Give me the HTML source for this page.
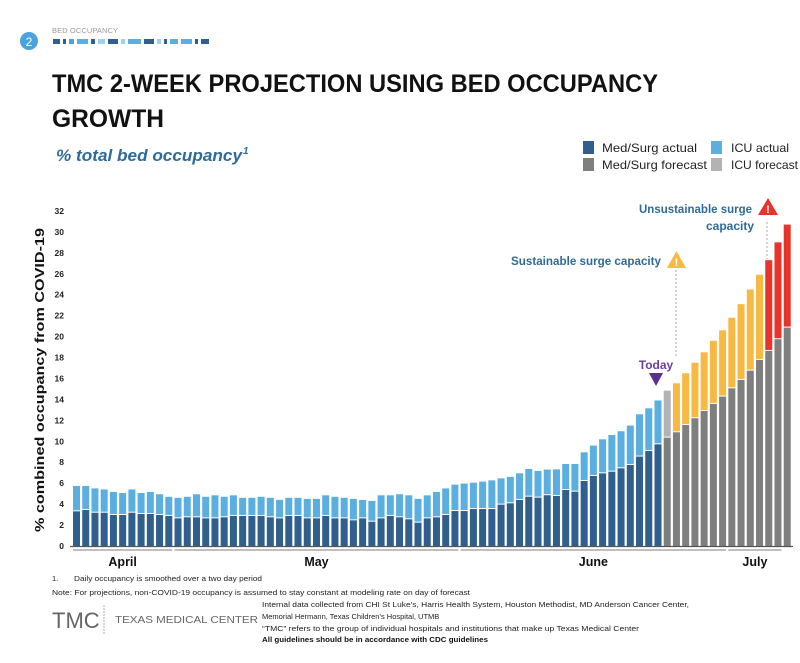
<!DOCTYPE html>
<html><head><meta charset="utf-8"><style>
body{margin:0;background:#fff;}
svg{display:block;font-family:"Liberation Sans",sans-serif;}
</style></head><body>
<svg id="chart" width="800" height="663" viewBox="0 0 800 663">
<g>
<circle cx="29" cy="41" r="9" fill="#4aa3dc"/>
<text x="29" y="46" font-size="12" fill="#fff" text-anchor="middle">2</text>
<text x="52" y="33" font-size="7.5" fill="#999" textLength="66">BED OCCUPANCY</text>
<g id="dashes"></g>
</g>
<text x="52" y="92" font-size="25" font-weight="bold" fill="#111" textLength="606" lengthAdjust="spacingAndGlyphs">TMC 2-WEEK PROJECTION USING BED OCCUPANCY</text>
<text x="52" y="127" font-size="25" font-weight="bold" fill="#111" textLength="112" lengthAdjust="spacingAndGlyphs">GROWTH</text>
<text x="56" y="161" font-size="17" font-weight="bold" font-style="italic" fill="#2e6b98" textLength="186" lengthAdjust="spacingAndGlyphs">% total bed occupancy</text>
<text x="243" y="154" font-size="10" font-weight="bold" font-style="italic" fill="#2e6b98">1</text>
<g>
<rect x="583" y="141" width="11" height="13" fill="#2f5f8a"/>
<text x="602" y="152" font-size="12" fill="#222" textLength="95" lengthAdjust="spacingAndGlyphs">Med/Surg actual</text>
<rect x="711" y="141" width="11" height="13" fill="#5aaee0"/>
<text x="731" y="152" font-size="12" fill="#222" textLength="58" lengthAdjust="spacingAndGlyphs">ICU actual</text>
<rect x="583" y="158" width="11" height="13" fill="#7f7f7f"/>
<text x="602" y="169" font-size="12" fill="#222" textLength="105" lengthAdjust="spacingAndGlyphs">Med/Surg forecast</text>
<rect x="711" y="158" width="11" height="13" fill="#b3b3b3"/>
<text x="731" y="169" font-size="12" fill="#222" textLength="67" lengthAdjust="spacingAndGlyphs">ICU forecast</text>
</g>
<text transform="translate(44,380) rotate(-90)" font-size="13" font-weight="bold" fill="#111" text-anchor="middle" textLength="304" lengthAdjust="spacingAndGlyphs">% combined occupancy from COVID-19</text>
<g id="yaxis"></g>
<g id="bars"></g>
<line x1="70" y1="546.5" x2="793" y2="546.5" stroke="#555" stroke-width="1.2"/>
<g id="months"></g>
<g>
<text x="752" y="213" font-size="12" font-weight="bold" fill="#2e6b98" text-anchor="end" textLength="113" lengthAdjust="spacingAndGlyphs">Unsustainable surge</text>
<text x="754" y="230" font-size="12" font-weight="bold" fill="#2e6b98" text-anchor="end" textLength="48" lengthAdjust="spacingAndGlyphs">capacity</text>
<polygon points="768,198 778,215 758,215" fill="#e8332a"/>
<text x="768" y="213" font-size="11" font-weight="bold" fill="#fff" text-anchor="middle">!</text>
<line x1="767" y1="222" x2="767" y2="259" stroke="#aaa" stroke-dasharray="2,2"/>
<text x="661" y="265" font-size="12" font-weight="bold" fill="#2e6b98" text-anchor="end" textLength="150" lengthAdjust="spacingAndGlyphs">Sustainable surge capacity</text>
<polygon points="676.5,251 686,268 667,268" fill="#f7b942"/>
<text x="676.5" y="266" font-size="11" font-weight="bold" fill="#fff" text-anchor="middle">!</text>
<line x1="676" y1="270" x2="676" y2="358" stroke="#aaa" stroke-dasharray="2,2"/>
<text x="656" y="369" font-size="12" font-weight="bold" fill="#6a3fa0" text-anchor="middle">Today</text>
<polygon points="649,373 663,373 656,386" fill="#5b2f91"/>
</g>
<g>
<text x="52" y="581" font-size="7.5" fill="#222">1.</text>
<text x="74" y="581" font-size="7.5" fill="#222" textLength="188" lengthAdjust="spacingAndGlyphs">Daily occupancy is smoothed over a two day period</text>
<text x="52" y="595" font-size="7.5" fill="#222" textLength="418" lengthAdjust="spacingAndGlyphs">Note: For projections, non-COVID-19 occupancy is assumed to stay constant at modeling rate on day of forecast</text>
<text x="52" y="628" font-size="22" fill="#666">TMC</text>
<line x1="104" y1="605" x2="104" y2="634" stroke="#999" stroke-width="0.8" stroke-dasharray="2,1"/>
<text x="115" y="623" font-size="10.5" fill="#666" textLength="143" lengthAdjust="spacingAndGlyphs">TEXAS MEDICAL CENTER</text>
<text x="262" y="607" font-size="7.5" fill="#222" textLength="427" lengthAdjust="spacingAndGlyphs">Internal data collected from CHI St Luke’s, Harris Health System, Houston Methodist, MD Anderson Cancer Center,</text>
<text x="262" y="619" font-size="7.5" fill="#222">Memorial Hermann, Texas Children’s Hospital, UTMB</text>
<text x="262" y="631" font-size="7.5" fill="#222" textLength="377" lengthAdjust="spacingAndGlyphs">“TMC” refers to the group of individual hospitals and institutions that make up Texas Medical Center</text>
<text x="262" y="642" font-size="7.5" font-weight="bold" fill="#111" textLength="226" lengthAdjust="spacingAndGlyphs">All guidelines should be in accordance with CDC guidelines</text>
</g>
</svg>
<script>
const totalValues=[5.73,5.73,5.5,5.4,5.16,5.06,5.4,5.06,5.16,4.94,4.7,4.6,4.7,4.94,4.7,4.84,4.7,4.84,4.6,4.6,4.7,4.6,4.4,4.6,4.6,
4.5,4.5,4.84,4.7,4.6,4.5,4.4,4.3,4.84,4.84,4.94,4.84,4.5,4.84,5.16,5.5,5.86,5.96,6.05,6.15,6.27,6.46,6.6,6.94,7.36,7.17,
7.3,7.32,7.83,7.83,8.95,9.59,10.19,10.6,10.96,11.5,12.58,13.15,13.9,14.84,15.54,16.5,17.5,18.5,19.6,20.6,21.8,23.1,24.5,25.9,27.3,29.0,30.7];
const medValues=[3.31,3.44,3.18,3.18,2.96,2.96,3.18,3.06,3.06,2.96,2.87,2.64,2.74,2.74,2.64,2.64,2.74,2.87,2.87,2.87,2.87,2.74,2.64,2.87,2.87,
2.64,2.64,2.87,2.64,2.64,2.45,2.64,2.32,2.64,2.87,2.74,2.55,2.23,2.64,2.74,2.96,3.34,3.34,3.53,3.53,3.53,3.95,4.08,4.4,4.71,4.62,
4.85,4.78,5.35,5.19,6.21,6.69,6.94,7.1,7.42,7.74,8.54,9.08,9.71,10.35,10.86,11.56,12.2,12.9,13.57,14.27,15.06,15.86,16.75,17.77,18.63,19.75,20.86];
const barKind=[];for(let i=0;i<totalValues.length;i++)barKind.push(i<64?'actual':i<65?'forecast':i<75?'sustainable':'unsustainable');
const yTicks=[0,2,4,6,8,10,12,14,16,18,20,22,24,26,28,30,32];
const months=['April','May','June','July'];
const monthStart=[0,11,42,71];
const monthEnd=[10,41,70,76];
const NS='http://www.w3.org/2000/svg';
const y=v=>546-v*10.47;
const x=i=>73+i*9.23;
const BW=7;
function mk(t,a,p){const e=document.createElementNS(NS,t);for(const k in a)e.setAttribute(k,a[k]);p.appendChild(e);return e;}
const yg=document.getElementById('yaxis');
yTicks.forEach(t=>{const e=mk('text',{x:64,y:y(t)+3,'font-size':8.5,'font-weight':'bold','text-anchor':'end',fill:'#222'},yg);


e.textContent=t;});
const bg=document.getElementById('bars');
const topColor={actual:'#5aaee0',forecast:'#b3b3b3',sustainable:'#f7b942',unsustainable:'#e8332a'};
totalValues.forEach((tv,i)=>{const mv=medValues[i];const k=barKind[i];
const lo=mk('rect',{x:x(i),y:y(mv),width:BW,height:y(0)-y(mv),fill:k==='actual'?'#2f5f8a':'#7f7f7f'},bg);


const up=mk('rect',{x:x(i),y:y(tv),width:BW,height:Math.max(0,y(mv)-y(tv)-1),fill:topColor[k]},bg);

});
const mg=document.getElementById('months');
months.forEach((m,j)=>{const x1=x(monthStart[j]),x2=x(monthEnd[j])+BW;
const l=mk('line',{x1:x1,x2:x2,y1:550,y2:550,stroke:'#999','stroke-width':1.2},mg);


const t=mk('text',{x:(x1+x2)/2,y:566,'font-size':12.5,'font-weight':'bold','text-anchor':'middle',fill:'#111'},mg);


t.textContent=m;});
const dg=document.getElementById('dashes');
const dashW=[7,3,5,11,4,7,10,4,13,10,4,3,8,11,3,8];
const dashC=['#2f5f8a','#2f5f8a','#4aa3dc','#5aaee0','#2f5f8a','#9fd0ee','#2f5f8a','#9fd0ee','#5aaee0','#2f5f8a','#9fd0ee','#2f5f8a','#5aaee0','#5aaee0','#2f5f8a','#2f5f8a'];
let dx=53;dashW.forEach((w,i)=>{const r=mk('rect',{x:dx,y:39,width:w,height:5,fill:dashC[i]},dg);


dx+=w+3;});
</script>
</body></html>
